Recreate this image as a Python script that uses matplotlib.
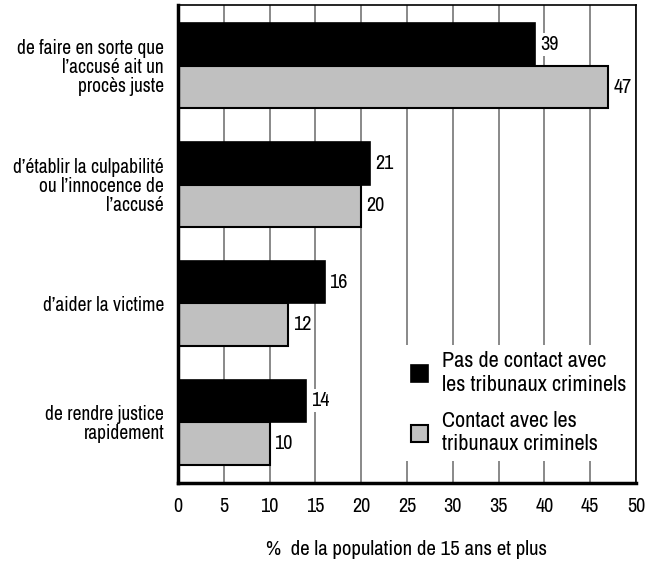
import numpy as np
import matplotlib as mpl
mpl.use('Agg')
import matplotlib.pyplot as plt
from matplotlib.patches import Patch

plt.rcParams['font.family'] = ['Archivo Narrow', 'Liberation Sans', 'DejaVu Sans']
plt.rcParams['font.size'] = 14

categories = [
    "de faire en sorte que\nl\u2019accus\u00e9 ait un\nproc\u00e8s juste",
    "d\u2019\u00e9tablir la culpabilit\u00e9\nou l\u2019innocence de\nl\u2019accus\u00e9",
    "d\u2019aider la victime",
    "de rendre justice\nrapidement",
]
no_contact = [39, 21, 16, 14]
contact = [47, 20, 12, 10]
series_labels = ["Pas de contact avec\nles tribunaux criminels",
                 "Contact avec les\ntribunaux criminels"]
xticks = list(range(0, 51, 5))

fig = plt.figure(figsize=(6.6, 5.64), dpi=100)
ax = fig.add_axes([0.2697, 0.1436, 0.6939, 0.8475])

y = np.arange(len(categories))
h = 0.36
b1 = ax.barh(y - h / 2, no_contact, height=h, color='black', edgecolor='black',
             linewidth=1.2, zorder=3)
b2 = ax.barh(y + h / 2, contact, height=h, color='#c0c0c0', edgecolor='black',
             linewidth=1.5, zorder=3)

for bars, vals in ((b1, no_contact), (b2, contact)):
    for r, v in zip(bars, vals):
        ax.annotate(str(v), (v, r.get_y() + r.get_height() / 2),
                    xytext=(3.5, 0), textcoords='offset points',
                    ha='left', va='center', fontsize=14.5, zorder=4,
                    bbox=dict(boxstyle='square,pad=0.1', fc='white', ec='none'))

ax.set_xlim(0, 50)
ax.set_ylim(3.51, -0.51)
ax.set_xticks(xticks)
ax.set_xticklabels([str(t) for t in xticks], fontsize=14.5)
ax.set_yticks(y)
ax.set_yticklabels(categories, ha='right', linespacing=1.0)
ax.tick_params(axis='y', length=0, pad=10)
ax.tick_params(axis='x', length=0, pad=10)
ax.xaxis.grid(True, color='#808080', linewidth=1.3, zorder=0)
ax.set_axisbelow(True)

ax.spines['left'].set_linewidth(2.5)
ax.spines['bottom'].set_linewidth(2.5)
ax.spines['top'].set_linewidth(1.2)
ax.spines['right'].set_linewidth(1.2)
for s in ax.spines.values():
    s.set_zorder(5)

ax.set_xlabel("%  de la population de 15 ans et plus", fontsize=15, labelpad=17)

handles = [Patch(facecolor='black', edgecolor='black', linewidth=1.2),
           Patch(facecolor='#c0c0c0', edgecolor='black', linewidth=1.5)]
leg = ax.legend(handles, series_labels, loc='upper left',
                bbox_to_anchor=(0.469, 0.3125), frameon=True, fancybox=False,
                edgecolor='none', facecolor='white', framealpha=1,
                handlelength=0.8, handleheight=0.8, handletextpad=0.6,
                labelspacing=0.75, borderpad=0.3, fontsize=16)
for t in leg.get_texts():
    t.set_linespacing(1.2)
leg.set_zorder(4)

plt.savefig("out.png", dpi=100)
